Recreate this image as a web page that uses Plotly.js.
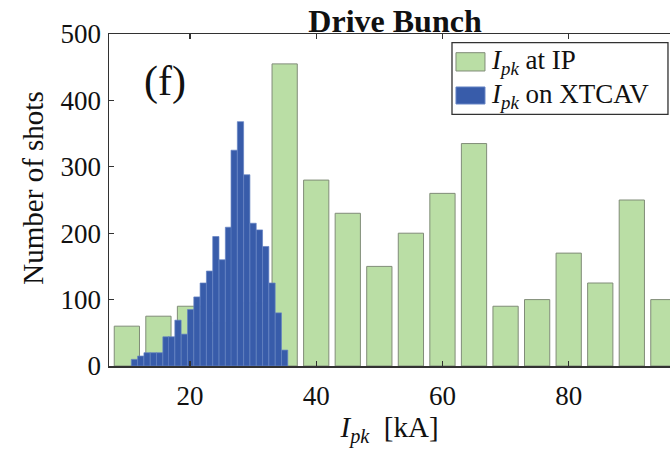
<!DOCTYPE html>
<html>
<head>
<meta charset="utf-8">
<script src="https://cdn.plot.ly/plotly-3.0.1.min.js"></script>
<style>
  html, body { margin: 0; padding: 0; background: #fff; }
  #chart { width: 670px; height: 449px; }
</style>
</head>
<body>
<div id="chart"></div>
<script>
// Peak-current histograms for the drive bunch
// Wide bins: peak current reconstructed at the IP (5 kA bins)
const ipBinCenters = [10, 15, 20, 25, 30, 35, 40, 45, 50, 55, 60, 65, 70, 75, 80, 85, 90, 95];
const ipCounts     = [60, 75, 90, 65, 95, 455, 280, 230, 150, 200, 260, 335, 90, 100, 170, 125, 250, 100];

// Narrow bins: peak current measured on the XTCAV screen (1 kA bins)
const xtcavBinCenters = [11.2, 12.2, 13.2, 14.2, 15.2, 16.2, 17.1, 18.1, 19.1, 20.1, 21.1, 22.1, 23.1,
                         24.1, 25.1, 26.1, 27.0, 28.0, 29.0, 30.0, 31.0, 32.0, 33.0, 34.0, 35.0];
const xtcavCounts     = [10, 15, 20, 20, 20, 44, 44, 69, 48, 85, 104, 125, 143,
                         195, 160, 209, 325, 368, 288, 215, 205, 180, 125, 80, 24];

const legendLabels = ['<i>I</i><sub><i>pk</i></sub> at IP', '<i>I</i><sub><i>pk</i></sub> on XTCAV'];
const xTickVals = [20, 40, 60, 80];
const yTickVals = [0, 100, 200, 300, 400, 500];

const GREEN = 'rgb(186,222,165)';
const GREEN_EDGE = 'rgb(128,140,120)';
const BLUE = 'rgb(56,92,170)';
const BLUE_EDGE = 'rgb(100,130,195)';
const AXIS = 'rgb(50,50,50)';
const SERIF = '"Liberation Serif", "Times New Roman", serif';

const traces = [
  {
    type: 'bar', name: legendLabels[0],
    x: ipBinCenters, y: ipCounts, width: 4,
    marker: { color: GREEN, line: { color: GREEN_EDGE, width: 1 } },
    hoverinfo: 'x+y'
  },
  {
    type: 'bar', name: legendLabels[1],
    x: xtcavBinCenters, y: xtcavCounts, width: 0.99,
    marker: { color: BLUE, line: { color: BLUE_EDGE, width: 0.7 } },
    hoverinfo: 'x+y'
  }
];

// Legend box with large swatches, in paper coordinates
const L = { x0: 0.6114, x1: 0.9964, y0: 0.7581, y1: 0.9738 };
const shapes = [
  { type: 'rect', xref: 'paper', yref: 'paper', x0: L.x0, x1: L.x1, y0: L.y0, y1: L.y1,
    fillcolor: 'white', line: { color: AXIS, width: 1.3 }, layer: 'above' },
  { type: 'rect', xref: 'paper', yref: 'paper', x0: 0.6185, x1: 0.6702, y0: 0.8886, y1: 0.9437,
    fillcolor: GREEN, line: { color: GREEN_EDGE, width: 1 }, layer: 'above' },
  { type: 'rect', xref: 'paper', yref: 'paper', x0: 0.6185, x1: 0.6702, y0: 0.7892, y1: 0.8404,
    fillcolor: BLUE, line: { color: BLUE_EDGE, width: 1 }, layer: 'above' }
];

const annotations = [
  { xref: 'paper', yref: 'paper', x: 0.6774, y: 0.9157, xanchor: 'left', yanchor: 'middle',
    text: legendLabels[0], showarrow: false, font: { family: SERIF, size: 27, color: '#111' } },
  { xref: 'paper', yref: 'paper', x: 0.6774, y: 0.8133, xanchor: 'left', yanchor: 'middle',
    text: legendLabels[1], showarrow: false, font: { family: SERIF, size: 27, color: '#111' } },
  { xref: 'paper', yref: 'paper', x: 0.0998, y: 0.858, xanchor: 'center', yanchor: 'middle',
    text: '(f)', showarrow: false, font: { family: SERIF, size: 42, color: '#111' } },
  // y-axis label
  { xref: 'paper', yref: 'paper', x: -0.135, y: 0.535, xanchor: 'center', yanchor: 'middle',
    textangle: -90, text: 'Number of shots', showarrow: false,
    font: { family: SERIF, size: 29, color: '#111' } }
];

const layout = {
  width: 670, height: 449,
  margin: { l: 109, r: 0, t: 34, b: 83 },
  paper_bgcolor: 'white', plot_bgcolor: 'white',
  barmode: 'overlay', showlegend: false,
  title: {
    text: '<b>Drive Bunch</b>',
    x: 0.5896, xref: 'container', xanchor: 'center',
    y: 0.953, yref: 'container', yanchor: 'middle',
    font: { family: SERIF, size: 32, color: '#111' }
  },
  xaxis: {
    range: [7.17, 96.05], tickvals: xTickVals, ticktext: xTickVals.map(String),
    showline: true, linecolor: AXIS, linewidth: 1.5, mirror: 'ticks',
    ticks: 'inside', ticklen: 5, tickcolor: AXIS, tickwidth: 1.2,
    showgrid: false, zeroline: false, ticklabelstandoff: 5,
    tickfont: { family: SERIF, size: 27, color: '#111' },
    title: { text: '<i>I</i><sub><i>pk</i></sub>  [kA]', standoff: 6,
             font: { family: SERIF, size: 29, color: '#111' } }
  },
  yaxis: {
    range: [0, 500], tickvals: yTickVals, ticktext: yTickVals.map(String),
    showline: true, linecolor: AXIS, linewidth: 1.5,
    ticks: 'inside', ticklen: 5, tickcolor: AXIS, tickwidth: 1.2,
    showgrid: false, zeroline: false, ticklabelstandoff: 1,
    tickfont: { family: SERIF, size: 27, color: '#111' }
  },
  shapes: shapes,
  annotations: annotations
};

Plotly.newPlot('chart', traces, layout, { displayModeBar: false, staticPlot: true });
</script>
</body>
</html>
